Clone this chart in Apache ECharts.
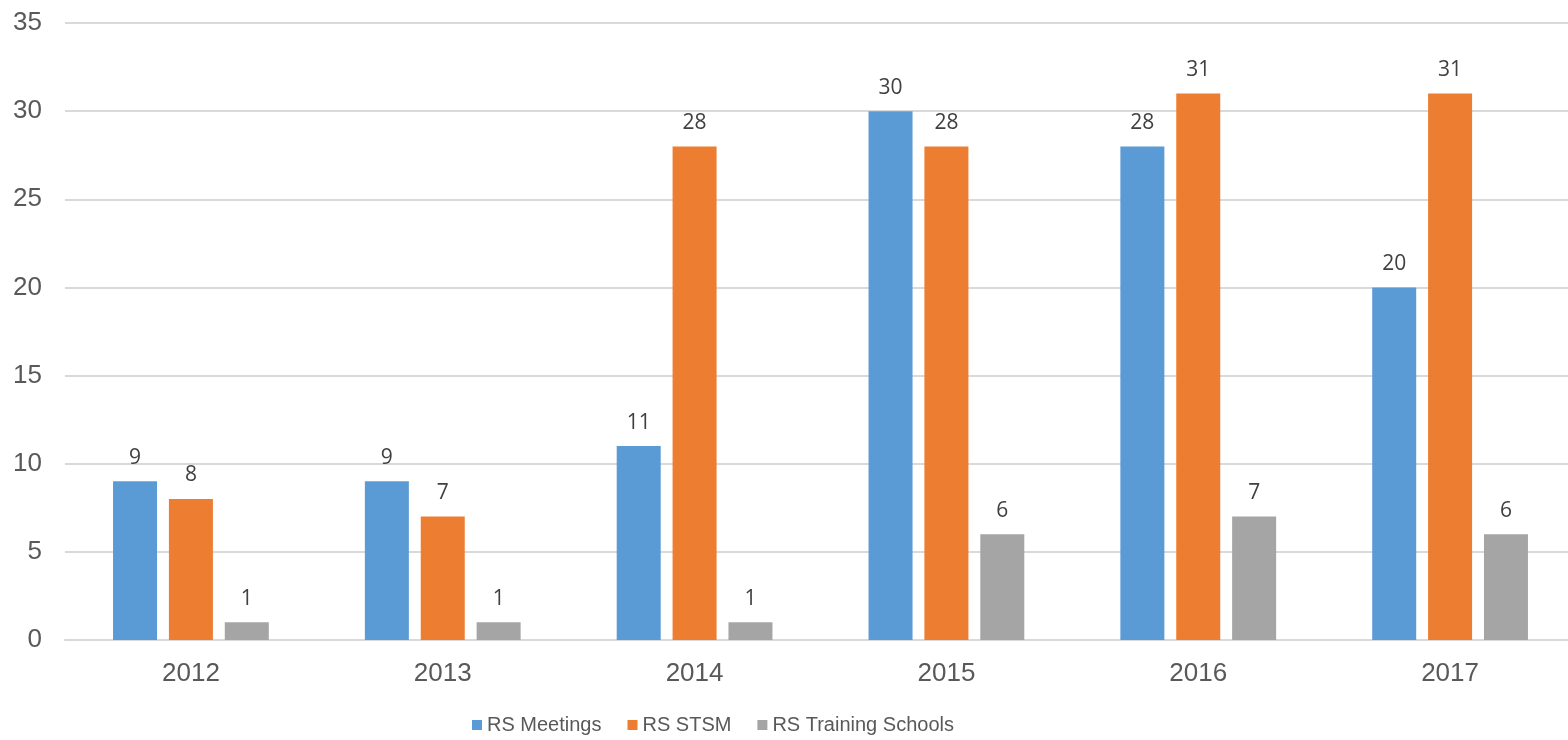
<!DOCTYPE html>
<html><head><meta charset="utf-8">
<script src="https://cdn.jsdelivr.net/npm/echarts@6/dist/echarts.min.js"></script>
<style>html,body{margin:0;padding:0;background:#fff;overflow:hidden}#c{width:1576px;height:740px}</style>
</head><body><div id="c"></div>
<script>
const categories = ['2012','2013','2014','2015','2016','2017'];
const seriesNames = ['RS Meetings','RS STSM','RS Training Schools'];
const meetings = [9, 9, 11, 30, 28, 20];
const stsm = [8, 7, 28, 28, 31, 31];
const trainingSchools = [1, 1, 1, 6, 7, 6];
const yTicks = [0, 5, 10, 15, 20, 25, 30, 35];

const colors = ['#5B9BD5','#ED7D31','#A5A5A5'];
const chart = echarts.init(document.getElementById('c'), null, {renderer:'canvas'});
const label = {show:true, position:'top', distance:13, color:'#404040', fontFamily:'Open Sans', fontSize:21};
function mk(name, data, i){
  return {name, type:'bar', data, barWidth:44, barGap:'27%', itemStyle:{color:colors[i]}, label};
}
chart.setOption({
  animation:false,
  grid:{left:65, right:0, top:23, bottom:100, containLabel:false},
  legend:{top:710, left:467, itemWidth:10, itemHeight:10, itemGap:26,
    icon:'rect',
    textStyle:{fontFamily:'Liberation Sans', fontSize:20, color:'#595959'},
    data:seriesNames},
  xAxis:{type:'category', data:categories,
    axisLine:{lineStyle:{color:'#D9D9D9', width:2}}, axisTick:{show:false},
    axisLabel:{color:'#595959', fontFamily:'Liberation Sans', fontSize:26, margin:21}},
  yAxis:{type:'value', min:yTicks[0], max:yTicks[yTicks.length-1], interval:5,
    axisLine:{show:false}, axisTick:{show:false},
    splitLine:{lineStyle:{color:'#D9D9D9', width:2}},
    axisLabel:{color:'#595959', fontFamily:'Liberation Sans', fontSize:26, margin:23}},
  series:[mk(seriesNames[0], meetings, 0), mk(seriesNames[1], stsm, 1), mk(seriesNames[2], trainingSchools, 2)]
});
</script></body></html>
